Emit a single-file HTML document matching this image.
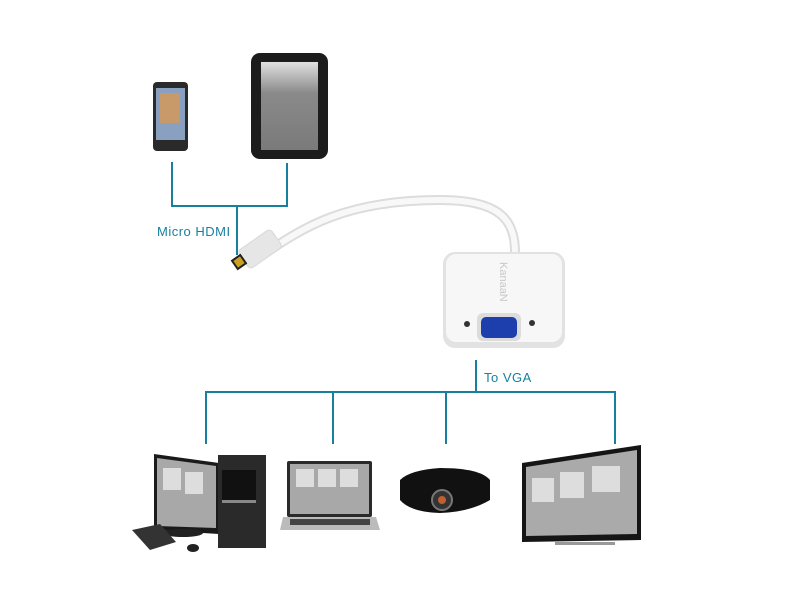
<!DOCTYPE html>
<html><head><meta charset="utf-8"><style>
html,body{margin:0;padding:0;background:#fff;}
svg{display:block}
text{font-family:"Liberation Sans",sans-serif;}
</style></head><body>
<svg width="800" height="600" viewBox="0 0 800 600" xmlns="http://www.w3.org/2000/svg">
<defs>
<linearGradient id="tab" x1="0" y1="0" x2="0" y2="1"><stop offset="0" stop-color="#e0e0e0"/><stop offset="0.35" stop-color="#8a8a8a"/><stop offset="1" stop-color="#7a7a7a"/></linearGradient>
</defs>
<!-- phone -->
<rect x="153" y="82" width="35" height="69" rx="4" fill="#2a2a2a"/>
<rect x="156" y="88" width="29" height="52" fill="#8aa0c0"/>
<rect x="160" y="93" width="20" height="30" fill="#c89a6a"/>
<!-- tablet -->
<rect x="251" y="53" width="77" height="106" rx="9" fill="#1c1c1c"/>
<rect x="261" y="62" width="57" height="88" fill="url(#tab)"/>
<!-- lines -->
<g stroke="#17809f" stroke-width="2" fill="none">
<path d="M172 162V206H287V163"/>
<path d="M237 206V255"/>
<path d="M476 360V392"/>
<path d="M206 444V392H615V444"/>
<path d="M333 392V444M446 392V444"/>
</g>
<text x="157" y="236" font-size="13" fill="#17809f" letter-spacing="0.5">Micro HDMI</text>
<text x="484" y="382" font-size="13" fill="#17809f" letter-spacing="0.5">To VGA</text>
<!-- cable -->
<path d="M255 260 C300 230, 340 200, 440 200 C500 200, 515 220, 515 252" stroke="#dcdcdc" stroke-width="10" fill="none"/>
<path d="M255 260 C300 230, 340 200, 440 200 C500 200, 515 220, 515 252" stroke="#f8f8f8" stroke-width="6" fill="none"/>
<rect x="240" y="238" width="40" height="22" rx="4" fill="#e6e6e6" stroke="#d8d8d8" transform="rotate(-35 260 249)"/>
<rect x="233" y="256" width="12" height="12" fill="#222" transform="rotate(-35 239 262)"/>
<rect x="235" y="258" width="8" height="8" fill="#c9a020" transform="rotate(-35 239 262)"/>
<!-- adapter -->
<rect x="443" y="252" width="122" height="96" rx="12" fill="#e2e2e2"/>
<rect x="446" y="254" width="116" height="88" rx="10" fill="#f7f7f7"/>
<text x="0" y="0" font-size="11" fill="#c8c8c8" font-family="Liberation Serif" transform="translate(500,262) rotate(90)">KanaaN</text>
<rect x="477" y="313" width="44" height="28" rx="6" fill="#dcdcdc"/>
<rect x="481" y="317" width="36" height="21" rx="5" fill="#1d3fae"/>
<circle cx="467" cy="324" r="3" fill="#333"/><circle cx="532" cy="323" r="3" fill="#333"/>
<!-- desktop monitor -->
<polygon points="154,454 219,463 219,534 154,530" fill="#1a1a1a"/>
<polygon points="157,458 216,466 216,528 157,526" fill="#a8a8a8"/>
<rect x="163" y="468" width="18" height="22" fill="#ddd"/><rect x="185" y="472" width="18" height="22" fill="#ddd"/>
<ellipse cx="183" cy="533" rx="20" ry="4" fill="#222"/>
<polygon points="132,530 160,524 176,542 150,550" fill="#333"/>
<ellipse cx="193" cy="548" rx="6" ry="4" fill="#222"/>
<!-- tower -->
<rect x="218" y="455" width="48" height="93" fill="#2a2a2a"/>
<rect x="222" y="470" width="34" height="30" fill="#111"/>
<rect x="222" y="500" width="34" height="3" fill="#888"/>
<!-- laptop -->
<rect x="287" y="461" width="85" height="56" rx="2" fill="#2a2a2a"/>
<rect x="290" y="464" width="79" height="50" fill="#a8a8a8"/>
<rect x="296" y="469" width="18" height="18" fill="#ddd"/><rect x="318" y="469" width="18" height="18" fill="#ddd"/><rect x="340" y="469" width="18" height="18" fill="#ddd"/>
<polygon points="283,517 376,517 380,530 280,530" fill="#bbb"/>
<rect x="290" y="519" width="80" height="6" fill="#444"/>
<!-- projector -->
<path d="M400 480 Q410 470 440 468 Q480 468 490 480 L490 500 Q470 512 440 513 Q410 512 400 500Z" fill="#111"/>
<circle cx="442" cy="500" r="10" fill="#333" stroke="#777" stroke-width="2"/>
<circle cx="442" cy="500" r="4" fill="#c06030"/>
<!-- TV -->
<polygon points="522,463 641,445 641,540 522,542" fill="#151515"/>
<polygon points="526,467 637,450 637,534 526,536" fill="#aaa"/>
<rect x="532" y="478" width="22" height="24" fill="#ddd"/><rect x="560" y="472" width="24" height="26" fill="#ddd"/><rect x="592" y="466" width="28" height="26" fill="#ddd"/>
<rect x="555" y="542" width="60" height="3" fill="#999"/>
</svg>
</body></html>
